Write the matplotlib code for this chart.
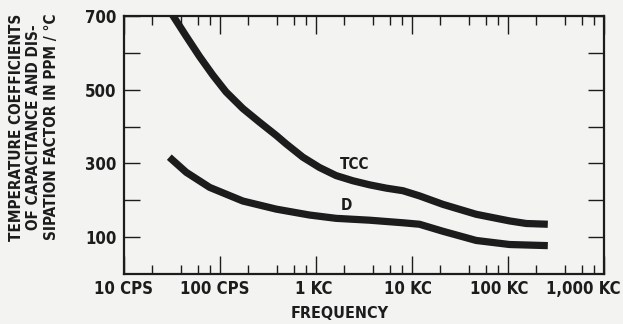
import matplotlib
matplotlib.use("Agg")
import matplotlib.pyplot as plt
from matplotlib.ticker import FixedLocator, NullFormatter
from matplotlib.transforms import ScaledTranslation

# --- values ---
tcc_freq = [32, 45, 62, 85, 117, 175, 261, 390, 495, 738, 1100, 1640, 2450, 3650, 5450,
            8130, 12100, 21200, 47200, 105000, 157000, 263000]
tcc_ppm = [705, 645, 590, 540, 494, 449, 412, 376, 353, 317, 289, 267, 253, 242, 233,
           226, 212, 189, 162, 144, 137, 135]

d_freq = [30, 45, 79, 175, 390, 866, 1640, 3650, 8130, 12100, 21200, 47200, 105000, 263000]
d_ppm = [317, 276, 235, 198, 176, 160, 151, 146, 139, 135, 116, 91, 80, 77]

x_ticks = [10, 100, 1e3, 1e4, 1e5, 1e6]
x_labels = ["10 CPS", "100 CPS", "1 KC", "10 KC", "100 KC", "1,000 KC"]
y_ticks = [100, 200, 300, 400, 500, 600, 700]
y_labels = ["100", "", "300", "", "500", "", "700"]

ink = "#1c1c1c"
paper = "#f3f3f1"
tfont = dict(family="DejaVu Sans", stretch="condensed", weight="bold")

fig = plt.figure(figsize=(6.23, 3.24), dpi=100, facecolor=paper)
ax = fig.add_axes([123.5 / 623, 1 - 274 / 324, 480 / 623, 258 / 324])
ax.set_facecolor(paper)

ax.plot(tcc_freq, tcc_ppm, color=ink, lw=5.2, solid_capstyle="butt", solid_joinstyle="round")
ax.plot(d_freq, d_ppm, color=ink, lw=5.2, solid_capstyle="butt", solid_joinstyle="round")

ax.text(2580, 296, "TCC", fontsize=11, color=ink, ha="center", va="center", **tfont)
ax.text(2090, 185, "D", fontsize=11, color=ink, ha="center", va="center", **tfont)

ax.set_xscale("log")
ax.set_xlim(10, 1e6)
ax.set_ylim(0, 700)

ax.xaxis.set_major_locator(FixedLocator(x_ticks))
ax.set_xticklabels(x_labels)
minors = [m * 10 ** e for e in range(1, 6) for m in (2, 4, 6, 8)]
ax.xaxis.set_minor_locator(FixedLocator(minors))
ax.xaxis.set_minor_formatter(NullFormatter())
ax.yaxis.set_major_locator(FixedLocator(y_ticks))
ax.set_yticklabels(y_labels)

ax.tick_params(axis="x", which="major", direction="in", top=True, bottom=True,
               length=13, width=1.0, color=ink, pad=4.5, labelsize=12, labelcolor=ink)
ax.tick_params(axis="x", which="minor", direction="in", top=True, bottom=True,
               length=6.5, width=1.0, color=ink)
ax.tick_params(axis="y", which="major", direction="in", left=True, right=True,
               length=11.5, width=1.0, color=ink, pad=5, labelsize=12, labelcolor=ink)

for lab in ax.get_xticklabels() + ax.get_yticklabels():
    lab.set_fontfamily("DejaVu Sans")
    lab.set_fontstretch("condensed")
    lab.set_fontweight("bold")

# the printed labels sit a little left of their ticks
for lab, dx in zip(ax.get_xticklabels(), [0, -5, -2, -3, -8, -20.5]):
    lab.set_transform(lab.get_transform() + ScaledTranslation(dx / 100, 0, fig.dpi_scale_trans))

for sp in ax.spines.values():
    sp.set_linewidth(1.6)
    sp.set_color(ink)

fig.text(340 / 623, 1 - 313 / 324, "FREQUENCY", fontsize=11.5, color=ink,
         ha="center", va="center", **tfont)
fig.text(34 / 623, 1 - 127 / 324,
         "TEMPERATURE COEFFICIENTS\nOF CAPACITANCE AND DIS-\nSIPATION FACTOR IN PPM / \u00b0C",
         fontsize=11, color=ink, rotation=90, ha="center", va="center",
         multialignment="center", linespacing=1.22, **tfont)

fig.savefig("out.png", dpi=100, facecolor=paper)
